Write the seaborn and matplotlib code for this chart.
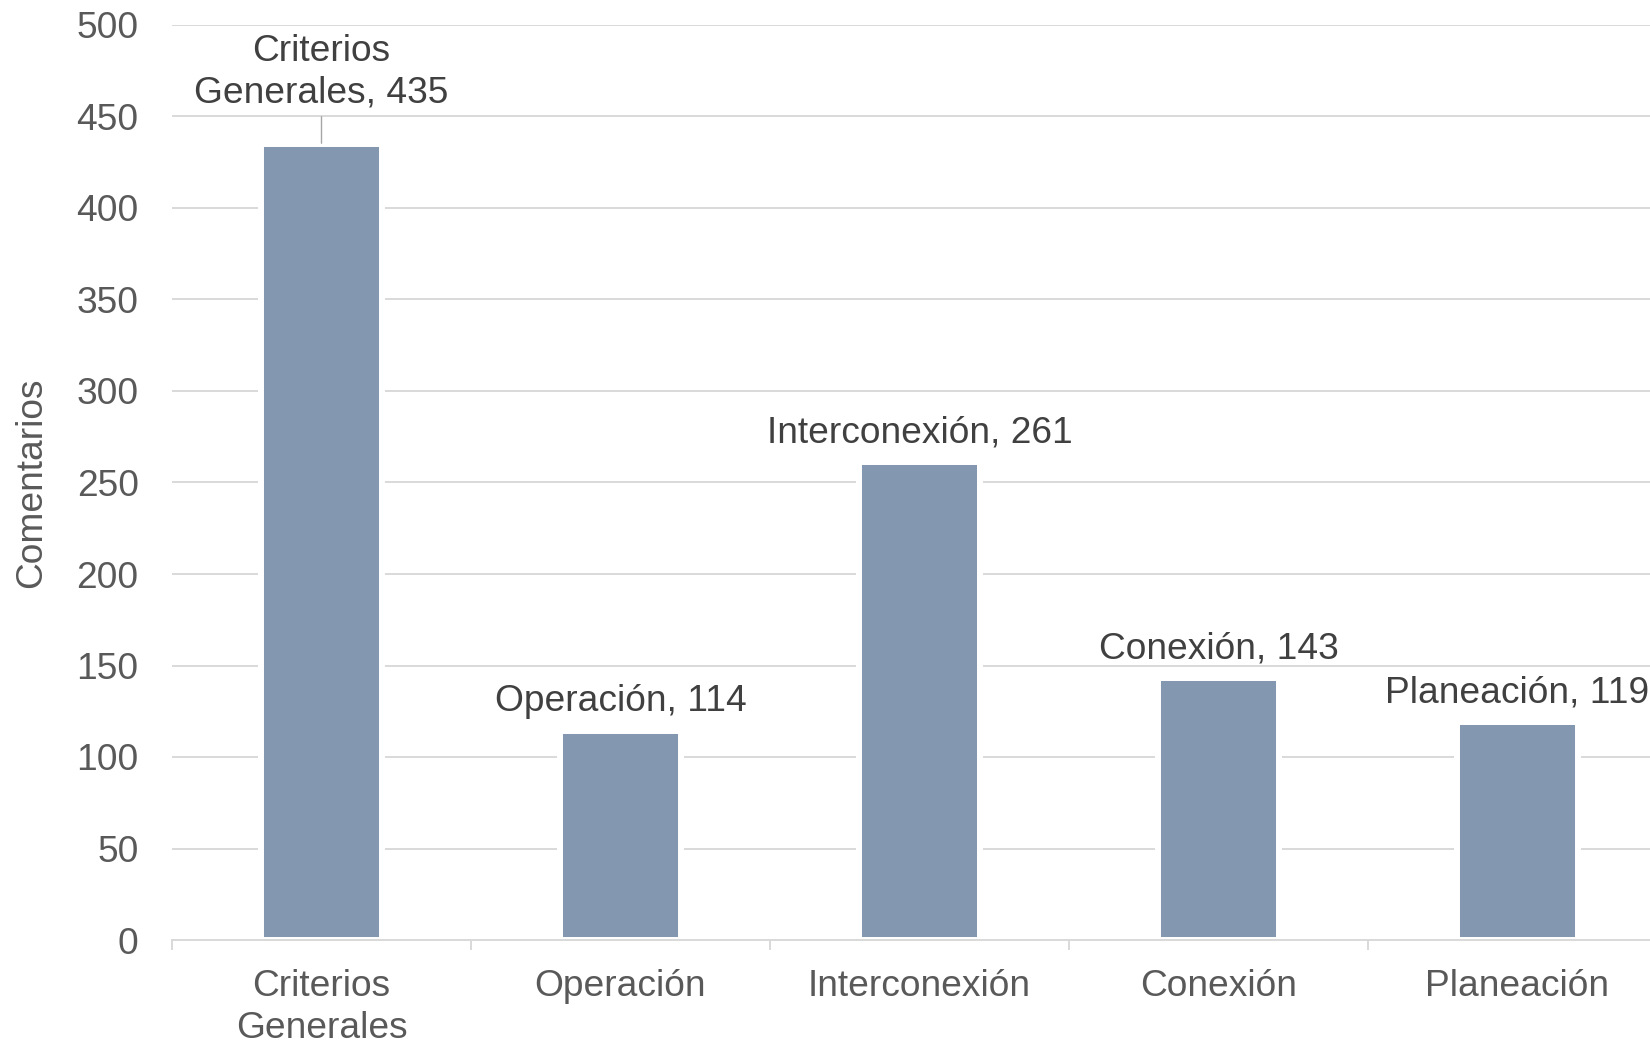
import matplotlib
matplotlib.use("Agg")
import matplotlib.pyplot as plt
import seaborn as sns
import pandas as pd
from matplotlib.ticker import FixedLocator, MultipleLocator

categories = ["Criterios Generales", "Operación", "Interconexión", "Conexión", "Planeación"]
tick_labels = ["Criterios\nGenerales", "Operación", "Interconexión", "Conexión", "Planeación"]
values = [435, 114, 261, 143, 119]
data_labels = ["Criterios\nGenerales, 435", "Operación, 114", "Interconexión, 261",
               "Conexión, 143", "Planeación, 119"]
y_label = "Comentarios"

sns.set_theme(style="white")
plt.rcParams["font.family"] = ["Liberation Sans", "DejaVu Sans"]

BAR = "#8497B0"
GRID = "#D9D9D9"
TICK = "#595959"
LABEL = "#404040"
FS = 26.7

df = pd.DataFrame({"cat": categories, "val": values})

fig = plt.figure(figsize=(16.5, 10.43), dpi=100)
W, H = 1650, 1043
ax = fig.add_axes([172 / W, (H - 940) / H, 1495 / W, 915 / H])

sns.barplot(data=df, x="cat", y="val", color=BAR, saturation=1, width=0.405,
            edgecolor="white", linewidth=4.3, ax=ax, zorder=2)

ax.set_xlim(-0.5, 4.5)
ax.set_ylim(0, 500)
ax.yaxis.set_major_locator(MultipleLocator(50))
ax.set_axisbelow(True)
ax.grid(axis="y", color=GRID, linewidth=1.4)
ax.grid(axis="x", visible=False)

for s in ["left", "top", "right"]:
    ax.spines[s].set_visible(False)
ax.spines["bottom"].set_color(GRID)
ax.spines["bottom"].set_linewidth(1.4)
ax.spines["bottom"].set_zorder(3)

ax.set_xticks(range(len(categories)))
ax.set_xticklabels(tick_labels, linespacing=1.25)
ax.xaxis.set_minor_locator(FixedLocator([i - 0.5 for i in range(len(categories) + 1)]))
ax.tick_params(axis="x", which="major", length=0, pad=21, labelsize=FS, labelcolor=TICK)
ax.tick_params(axis="x", which="minor", length=7.2, width=1.4, color=GRID, bottom=True)
ax.tick_params(axis="y", length=0, pad=24, labelsize=FS, labelcolor=TICK)

ax.set_xlabel("")
ax.set_ylabel(y_label, fontsize=FS, color=TICK)
ax.yaxis.set_label_coords(-0.082, 0.5)

for i, (v, lab) in enumerate(zip(values, data_labels)):
    if "\n" in lab:
        ax.annotate(lab, xy=(i, v), xytext=(0, 24), textcoords="offset points",
                    ha="center", va="bottom", fontsize=FS, color=LABEL, linespacing=1.25,
                    annotation_clip=False,
                    arrowprops=dict(arrowstyle="-", color="#A6A6A6", lw=1.0,
                                    shrinkA=2, shrinkB=0.5))
    else:
        ax.annotate(lab, xy=(i, v), xytext=(0, 14.4), textcoords="offset points",
                    ha="center", va="baseline", fontsize=FS, color=LABEL,
                    annotation_clip=False)

fig.savefig("out.png", dpi=100)
